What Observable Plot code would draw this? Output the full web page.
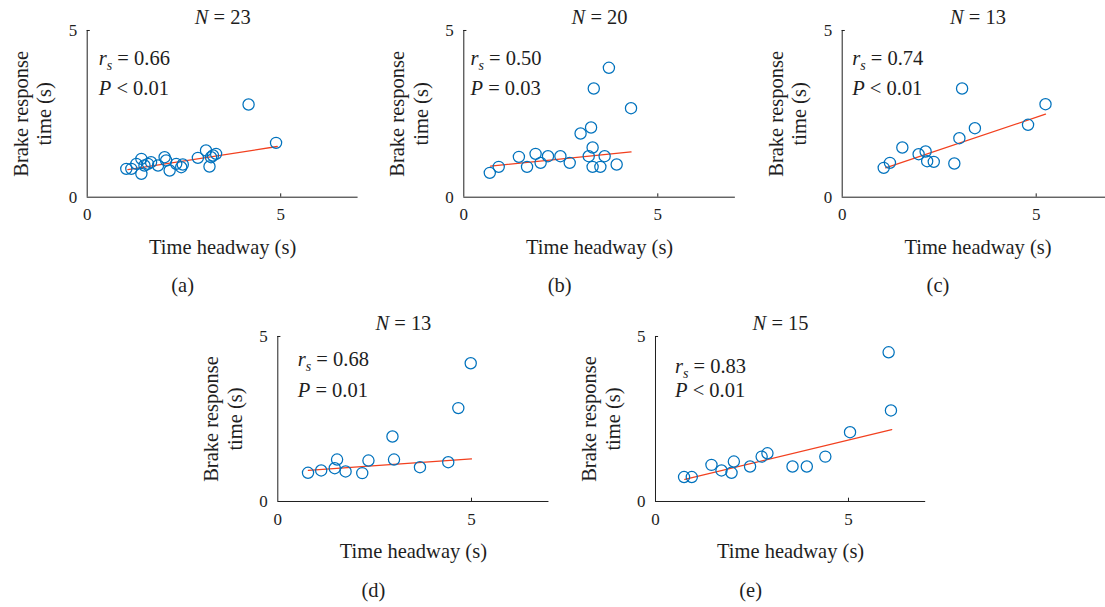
<!DOCTYPE html>
<html><head><meta charset="utf-8">
<script src="https://cdn.jsdelivr.net/npm/d3@7"></script>
<script src="https://cdn.jsdelivr.net/npm/@observablehq/plot@0.6"></script>
<style>
html,body{margin:0;padding:0;background:#fff;}
#root{position:relative;width:1105px;height:607px;overflow:hidden;background:#fff;}
#root svg{position:absolute;overflow:visible;}
</style></head><body><div id="root"></div>
<script>
// ---------- data ----------
const panelLabels = ["(a)", "(b)", "(c)", "(d)", "(e)"];
const sampleSizes = [23, 20, 13, 13, 15];
const rsValues = ["0.66", "0.50", "0.74", "0.68", "0.83"];
const pValues = ["< 0.01", "= 0.03", "< 0.01", "= 0.01", "< 0.01"];
const xTicks = [0, 5];
const yTicks = [0, 5];
const xLabel = "Time headway (s)";
const yLabel = "Brake response\ntime (s)";

const headwayA = [1.01,1.14,1.27,1.40,1.40,1.48,1.57,1.65,1.83,2.00,2.04,2.13,2.30,2.43,2.47,2.86,3.07,3.16,3.20,3.25,3.33,4.17,4.88];
const brakeA   = [0.85,0.85,1.00,1.15,0.70,0.95,1.00,1.05,0.95,1.20,1.10,0.80,1.00,0.90,0.98,1.18,1.40,0.92,1.20,1.25,1.30,2.78,1.63];
const fitXA = [1.05, 4.91], fitYA = [0.83, 1.52];

const headwayB = [0.67,0.90,1.42,1.63,1.85,1.98,2.17,2.49,2.73,3.01,3.22,3.28,3.32,3.35,3.32,3.52,3.63,3.74,3.94,4.31];
const brakeB   = [0.73,0.91,1.21,0.91,1.30,1.03,1.23,1.23,1.03,1.91,1.23,2.09,1.49,3.26,0.91,0.91,1.23,3.88,0.98,2.67];
const fitXB = [0.69, 4.31], fitYB = [0.93, 1.36];

const headwayC = [1.07,1.23,1.55,1.97,2.15,2.19,2.36,2.89,3.02,3.09,3.42,4.79,5.24];
const brakeC   = [0.88,1.03,1.49,1.29,1.37,1.08,1.06,1.01,1.77,3.26,2.07,2.17,2.79];
const fitXC = [1.12, 5.24], fitYC = [0.88, 2.49];

const headwayD = [0.78,1.12,1.47,1.53,1.75,2.18,2.34,2.96,3.00,3.67,4.40,4.66,4.98];
const brakeD   = [0.87,0.94,1.01,1.27,0.91,0.86,1.24,1.97,1.27,1.04,1.19,2.83,4.19];
const fitXD = [0.79, 5.00], fitYD = [0.94, 1.29];

const headwayE = [0.74,0.94,1.45,1.71,1.97,2.03,2.45,2.75,2.90,3.55,3.92,4.40,5.04,6.04,6.10];
const brakeE   = [0.74,0.74,1.11,0.94,0.87,1.21,1.06,1.36,1.46,1.06,1.06,1.36,2.10,4.52,2.76];
const fitXE = [0.76, 6.12], fitYE = [0.67, 2.18];

const headways = [headwayA, headwayB, headwayC, headwayD, headwayE];
const brakes = [brakeA, brakeB, brakeC, brakeD, brakeE];
const fitXs = [fitXA, fitXB, fitXC, fitXD, fitXE];
const fitYs = [fitYA, fitYB, fitYC, fitYD, fitYE];

// ---------- layout ----------
const layout = [
  {left: 0,   top: 0,   frameLeft: 86.7,  unit: 38.7,  frameH: 166.7, titleDx: 0,   rsDx: 11.6, rsDy: 27.6, pDy: 57.6},
  {left: 375, top: 0,   frameLeft: 463.3, unit: 38.8,  frameH: 166.7, titleDx: 0,   rsDx: 6.7,  rsDy: 27.6, pDy: 57.6},
  {left: 752, top: 0,   frameLeft: 841.7, unit: 38.8,  frameH: 166.7, titleDx: 0,   rsDx: 10,   rsDy: 27.6, pDy: 57.6},
  {left: 190, top: 306, frameLeft: 277.3, unit: 38.74, frameH: 165,   titleDx: -10, rsDx: 20,   rsDy: 22.6, pDy: 53.6},
  {left: 568, top: 306, frameLeft: 655,   unit: 38.6,  frameH: 165,   titleDx: -10, rsDx: 19.5, rsDy: 29.6, pDy: 53.6}
];

const blue = "#0072BD";
const red = "#F2401F";
const ink = "#1e1e1e";
const FONT = "'Liberation Serif', 'DejaVu Serif', 'Times New Roman', serif";
const FS = 20.5;
const root = document.getElementById("root");

function decorate(svg) {
  d3.select(svg).selectAll("text").each(function () {
    const t = this.textContent;
    let m;
    const s = d3.select(this);
    if ((m = /^rs( = .*)$/.exec(t))) {
      s.text(null);
      s.append("tspan").attr("font-style", "italic").text("r");
      s.append("tspan").attr("font-style", "italic").attr("font-size", "14px").attr("dy", "5").text("s");
      s.append("tspan").attr("dy", "-5").text(m[1]);
    } else if ((m = /^([NP])( [=<] .*)$/.exec(t))) {
      s.text(null);
      s.append("tspan").attr("font-style", "italic").text(m[1]);
      s.append("tspan").text(m[2]);
    }
  });
}

layout.forEach((L, i) => {
  const marginLeft = L.frameLeft - L.left;
  const marginTop = 30;
  const marginBottom = 103;
  const marginRight = 12;
  const width = marginLeft + 7 * L.unit + marginRight;
  const height = marginTop + L.frameH + marginBottom;
  const pts = headways[i].map((x, k) => ({x, y: brakes[i][k]}));
  const fit = fitXs[i].map((x, k) => ({x, y: fitYs[i][k]}));
  const T = {fontSize: FS, fill: ink, lineAnchor: "middle"};
  const svg = Plot.plot({
    width, height, marginLeft, marginTop, marginBottom, marginRight,
    style: {fontFamily: FONT, fontSize: "17px", color: ink, background: "transparent"},
    x: {domain: [0, 7]},
    y: {domain: [0, 5]},
    marks: [
      Plot.axisX(xTicks, {tickSize: 0, tickPadding: 11, label: null}),
      Plot.axisY(yTicks, {tickSize: 0, tickPadding: 10, label: null}),
      Plot.ruleY([0], {stroke: ink, strokeWidth: 1}),
      Plot.ruleX([0], {stroke: ink, strokeWidth: 1}),
      Plot.ruleX([5], {y1: 0, y2: 0.1, stroke: ink, strokeWidth: 1}),
      Plot.ruleY([5], {x1: 0, x2: 0.08, stroke: ink, strokeWidth: 1}),
      Plot.line(fit, {x: "x", y: "y", stroke: red, strokeWidth: 1.3}),
      Plot.dot(pts, {x: "x", y: "y", r: 5.6, stroke: blue, strokeWidth: 1.25, fill: "none"}),
      Plot.text([`N = ${sampleSizes[i]}`], {...T, frameAnchor: "top", textAnchor: "middle", dx: L.titleDx, dy: -13.4}),
      Plot.text([`rs = ${rsValues[i]}`], {...T, frameAnchor: "top-left", textAnchor: "start", dx: L.rsDx, dy: L.rsDy}),
      Plot.text([`P ${pValues[i]}`], {...T, frameAnchor: "top-left", textAnchor: "start", dx: L.rsDx, dy: L.pDy}),
      Plot.text([xLabel], {...T, frameAnchor: "bottom", textAnchor: "middle", dy: 50}),
      Plot.text([yLabel], {...T, frameAnchor: "left", textAnchor: "middle", rotate: -90, dx: -55.3, lineHeight: 1.15}),
      Plot.text([panelLabels[i]], {...T, frameAnchor: "bottom", textAnchor: "middle", dx: -40, dy: 88.5})
    ]
  });
  svg.style.left = L.left + "px";
  svg.style.top = L.top + "px";
  decorate(svg);
  root.appendChild(svg);
});
</script></body></html>
